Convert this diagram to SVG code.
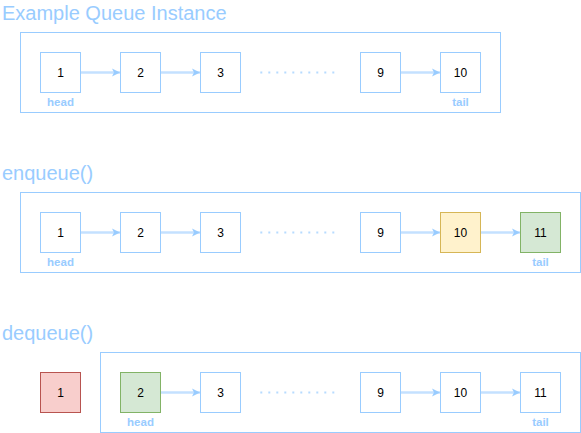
<svg xmlns="http://www.w3.org/2000/svg" width="581" height="433" viewBox="0 0 581 433">
<defs>
<style>
.title{font-family:"Liberation Sans",Arial,sans-serif;font-size:20px;fill:#99CCFF}
.box{fill:none;stroke:#99CCFF;stroke-width:1}
.node{fill:#FFFFFF;stroke:#99CCFF;stroke-width:1}
.yellow{fill:#FFF2CC;stroke:#D6B656}
.green{fill:#D5E8D4;stroke:#82B366}
.red{fill:#F8CECC;stroke:#B85450}
.lbl{font-family:"Liberation Sans",Arial,sans-serif;font-size:12px;fill:#000;text-anchor:middle}
.tag{font-family:"Liberation Sans",Arial,sans-serif;font-size:11.5px;font-weight:bold;fill:#99CCFF;text-anchor:middle}
.edge{stroke:#C4E1FF;stroke-width:2.5;fill:none}
.dots{stroke:#99CCFF;stroke-width:2;stroke-dasharray:2 6;fill:none;opacity:0.7}
</style>
<marker id="arr" markerWidth="10" markerHeight="10" refX="8" refY="5" orient="auto" markerUnits="userSpaceOnUse">
<path d="M0,1 L8,5 L0,9 L2,5 Z" fill="#99CCFF"/>
</marker>
</defs>

<text class="title" x="2" y="20">Example Queue Instance</text>
<text class="title" x="2" y="180">enqueue()</text>
<text class="title" x="2" y="340">dequeue()</text>

<g id="containers">
<rect class="box" x="20.5" y="32.5" width="480" height="80"/>
<rect class="box" x="20.5" y="192.5" width="560" height="80"/>
<rect class="box" x="100.5" y="352.5" width="480" height="80"/>
</g>

<g id="connectors">
<line class="edge" x1="81" y1="72.5" x2="120" y2="72.5" marker-end="url(#arr)"/>
<line class="edge" x1="161" y1="72.5" x2="200" y2="72.5" marker-end="url(#arr)"/>
<line class="edge" x1="401" y1="72.5" x2="440" y2="72.5" marker-end="url(#arr)"/>
<line class="dots" x1="260.3" y1="72.5" x2="336" y2="72.5"/>

<line class="edge" x1="81" y1="232.5" x2="120" y2="232.5" marker-end="url(#arr)"/>
<line class="edge" x1="161" y1="232.5" x2="200" y2="232.5" marker-end="url(#arr)"/>
<line class="edge" x1="401" y1="232.5" x2="440" y2="232.5" marker-end="url(#arr)"/>
<line class="edge" x1="481" y1="232.5" x2="520" y2="232.5" marker-end="url(#arr)"/>
<line class="dots" x1="260.3" y1="232.5" x2="336" y2="232.5"/>

<line class="edge" x1="161" y1="392.5" x2="200" y2="392.5" marker-end="url(#arr)"/>
<line class="edge" x1="401" y1="392.5" x2="440" y2="392.5" marker-end="url(#arr)"/>
<line class="edge" x1="481" y1="392.5" x2="520" y2="392.5" marker-end="url(#arr)"/>
<line class="dots" x1="260.3" y1="392.5" x2="336" y2="392.5"/>
</g>

<g id="q1-n1"><rect class="node" x="40.5" y="52.5" width="40" height="40"/><text class="lbl" x="60.5" y="76.5">1</text></g>
<g id="q1-n2"><rect class="node" x="120.5" y="52.5" width="40" height="40"/><text class="lbl" x="140.5" y="76.5">2</text></g>
<g id="q1-n3"><rect class="node" x="200.5" y="52.5" width="40" height="40"/><text class="lbl" x="220.5" y="76.5">3</text></g>
<g id="q1-n9"><rect class="node" x="360.5" y="52.5" width="40" height="40"/><text class="lbl" x="380.5" y="76.5">9</text></g>
<g id="q1-n10"><rect class="node" x="440.5" y="52.5" width="40" height="40"/><text class="lbl" x="460.5" y="76.5">10</text></g>
<g id="q1-head"><text class="tag" x="60.5" y="106">head</text></g>
<g id="q1-tail"><text class="tag" x="460.5" y="106">tail</text></g>

<g id="q2-n1"><rect class="node" x="40.5" y="212.5" width="40" height="40"/><text class="lbl" x="60.5" y="236.5">1</text></g>
<g id="q2-n2"><rect class="node" x="120.5" y="212.5" width="40" height="40"/><text class="lbl" x="140.5" y="236.5">2</text></g>
<g id="q2-n3"><rect class="node" x="200.5" y="212.5" width="40" height="40"/><text class="lbl" x="220.5" y="236.5">3</text></g>
<g id="q2-n9"><rect class="node" x="360.5" y="212.5" width="40" height="40"/><text class="lbl" x="380.5" y="236.5">9</text></g>
<g id="q2-n10"><rect class="node yellow" x="440.5" y="212.5" width="40" height="40"/><text class="lbl" x="460.5" y="236.5">10</text></g>
<g id="q2-n11"><rect class="node green" x="520.5" y="212.5" width="40" height="40"/><text class="lbl" x="540.5" y="236.5">11</text></g>
<g id="q2-head"><text class="tag" x="60.5" y="266">head</text></g>
<g id="q2-tail"><text class="tag" x="540.5" y="266">tail</text></g>

<g id="q3-n1"><rect class="node red" x="40.5" y="372.5" width="40" height="40"/><text class="lbl" x="60.5" y="396.5">1</text></g>
<g id="q3-n2"><rect class="node green" x="120.5" y="372.5" width="40" height="40"/><text class="lbl" x="140.5" y="396.5">2</text></g>
<g id="q3-n3"><rect class="node" x="200.5" y="372.5" width="40" height="40"/><text class="lbl" x="220.5" y="396.5">3</text></g>
<g id="q3-n9"><rect class="node" x="360.5" y="372.5" width="40" height="40"/><text class="lbl" x="380.5" y="396.5">9</text></g>
<g id="q3-n10"><rect class="node" x="440.5" y="372.5" width="40" height="40"/><text class="lbl" x="460.5" y="396.5">10</text></g>
<g id="q3-n11"><rect class="node" x="520.5" y="372.5" width="40" height="40"/><text class="lbl" x="540.5" y="396.5">11</text></g>
<g id="q3-head"><text class="tag" x="140.5" y="426">head</text></g>
<g id="q3-tail"><text class="tag" x="540.5" y="426">tail</text></g>
</svg>
